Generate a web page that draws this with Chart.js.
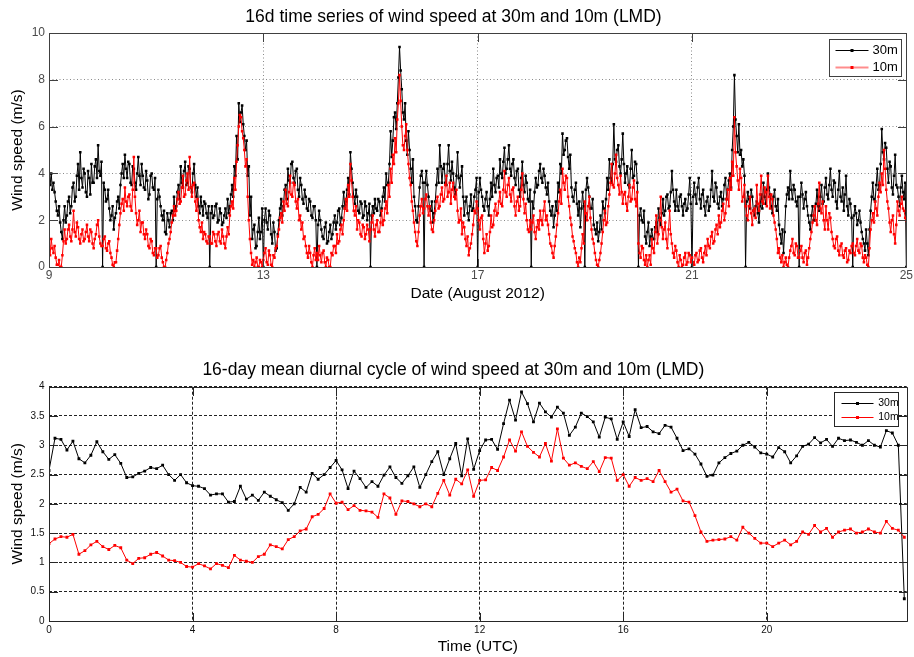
<!DOCTYPE html>
<html>
<head>
<meta charset="utf-8">
<script src="https://cdn.jsdelivr.net/npm/chart.js@4.4.1/dist/chart.umd.min.js"></script>
<style>
  html, body { margin: 0; padding: 0; background: #fff; width: 914px; height: 657px; overflow: hidden; }
  .panel { position: absolute; left: 0; }
  #topPanel { top: 0; }
  #bottomPanel { top: 345px; }
  canvas { display: block; }
</style>
</head>
<body>
<div class="panel" id="topPanel"><canvas id="seriesChart" width="914" height="310" style="width:914px;height:310px"></canvas></div>
<div class="panel" id="bottomPanel"><canvas id="diurnalChart" width="914" height="312" style="width:914px;height:312px"></canvas></div>
<script>
// ---- 16-day half-hourly wind speed, 9-25 August 2012 (m/s); one row per day, 00:00 .. 23:30 ----
const FIRST_DAY = 9;
const STEPS_PER_DAY = 48;
const wind30m = [
  3.8,3.5, 4.0,3.3, 3.6,3.2, 2.8,2.4, 2.2,2.6, 1.9,1.5, 1.2,2.0, 2.6,1.9, 2.2,2.8, 3.0,2.3, 2.6,3.4, 3.6,2.8, 3.0,3.9, 4.4,3.3, 4.9,3.8, 3.4,4.2, 4.0,3.2, 3.0,4.1, 3.8,3.1, 4.4,3.6, 3.6,4.3, 4.6,3.8, 5.2,4.1, 3.9,4.5, // 9
  0,3.6, 3.3,2.8, 2.9,3.3, 2.5,2.0, 2.2,2.6, 1.6,2.1, 2.3,2.8, 3.0,2.5, 3.5,4.0, 4.4,3.8, 4.8,4.2, 3.8,4.5, 4.4,3.6, 3.5,4.3, 4.2,3.6, 3.3,4.0, 4.7,3.9, 3.5,4.4, 3.9,3.4, 3.3,4.1, 3.7,2.9, 3.1,3.9, 4.0,3.4, 3.3,3.8,   // 10
  0,2.9, 3.3,3.0, 2.6,2.2, 2.0,2.4, 1.5,1.4, 2.3,2.0, 1.7,2.3, 2.4,2.0, 3.0,2.4, 2.6,3.2, 3.5,2.9, 4.3,3.6, 3.4,4.1, 4.5,3.5, 3.6,4.3, 4.2,3.4, 3.2,4.0, 4.4,3.5, 3.0,3.4, 2.6,2.3, 3.0,2.6, 2.2,2.8, 2.7,2.3, 2.1,2.6,   // 11
  0,2.3, 2.6,2.1, 2.2,2.6, 2.7,1.9, 2.0,2.5, 2.3,1.8, 1.9,2.2, 2.5,2.1, 2.9,2.3, 2.6,3.1, 3.5,3.0, 4.3,3.9, 5.6,4.6, 7.0,6.2, 6.6,6.9, 6.1,5.6, 5.0,5.4, 3.9,4.3, 2.2,3.0, 1.2,1.6, 1.8,0.8, 0.9,1.5, 2.1,1.2, 1.5,2.5,   // 12
  0,2.0, 2.5,1.9, 1.6,2.4, 2.2,1.4, 1.0,1.9, 1.5,0.7, 0.8,1.4, 2.0,2.5, 2.9,2.2, 2.6,3.3, 3.5,2.9, 4.2,3.7, 3.6,4.4, 4.5,3.8, 3.6,4.1, 4.2,3.3, 3.0,3.8, 3.5,2.9, 2.7,3.3, 3.0,2.5, 2.4,2.9, 2.8,2.2, 2.1,2.6, 2.6,2.0,   // 13
  0,1.8, 2.4,2.0, 1.6,1.3, 1.2,1.7, 1.9,1.0, 1.1,1.5, 1.8,1.2, 1.4,1.9, 2.2,1.6, 1.9,2.4, 2.5,1.8, 2.1,2.6, 3.2,2.5, 2.8,3.3, 3.8,3.1, 4.9,4.2, 3.6,3.0, 2.7,3.3, 3.0,2.4, 2.3,2.8, 2.7,2.1, 2.2,2.8, 2.6,2.0, 2.3,2.7,   // 14
  0,2.2, 2.6,2.3, 2.9,2.5, 2.4,2.9, 2.8,2.2, 2.5,3.0, 3.4,2.8, 4.0,3.5, 3.6,4.4, 5.8,4.7, 5.4,6.4, 6.6,5.9, 7.0,8.1, 9.4,8.4, 7.6,6.6, 6.3,7.0, 5.4,4.8, 5.8,5.0, 4.2,3.6, 4.6,3.0, 2.6,2.0, 1.9,2.6, 3.4,3.9, 4.1,3.6,   // 15
  0,3.6, 4.1,3.5, 3.0,2.5, 2.4,2.8, 1.9,2.3, 2.8,3.5, 4.2,3.6, 5.2,4.3, 3.6,4.2, 4.4,3.6, 3.5,4.4, 5.2,4.1, 3.7,4.5, 4.0,3.4, 3.1,3.9, 4.9,3.8, 3.4,3.9, 4.3,3.0, 2.2,2.8, 3.0,2.3, 2.0,2.6, 3.1,2.4, 2.5,3.0, 3.3,3.8,   // 16
  0,3.2, 3.8,3.3, 3.0,2.6, 2.4,2.9, 3.2,2.6, 2.2,2.9, 3.6,3.0, 4.2,3.5, 3.2,3.8, 3.9,3.4, 4.6,4.0, 3.8,4.5, 5.1,4.0, 4.2,4.6, 5.2,4.2, 3.9,4.4, 4.6,3.8, 3.5,4.1, 4.2,3.3, 3.0,3.8, 4.5,3.5, 3.2,3.9, 3.6,2.9, 2.8,3.3,   // 17
  0,2.8, 2.5,3.2, 3.8,3.4, 3.5,4.1, 4.4,3.8, 3.6,4.2, 3.9,3.4, 3.1,3.6, 2.8,2.4, 2.2,2.6, 1.7,2.2, 2.8,2.4, 3.6,3.2, 4.4,4.0, 5.7,4.8, 5.0,5.4, 5.5,4.7, 4.2,4.8, 3.4,3.0, 2.8,3.3, 3.6,2.7, 2.2,2.8, 1.7,2.5, 3.2,2.6,   // 18
  0,3.3, 3.8,3.4, 3.0,2.5, 2.5,2.9, 1.8,1.6, 1.4,1.9, 1.1,1.5, 2.2,1.6, 2.8,2.5, 2.3,2.9, 3.8,3.3, 4.6,3.8, 3.6,4.4, 6.1,4.6, 4.5,5.0, 5.2,4.3, 4.0,4.6, 5.7,4.4, 3.6,4.0, 4.3,3.5, 3.4,4.2, 5.0,3.8, 3.9,4.5, 4.4,3.6,   // 19
  0,2.2, 2.5,2.0, 1.9,2.4, 1.3,1.0, 1.5,1.9, 0.9,1.3, 1.6,1.2, 1.2,1.7, 1.9,1.5, 2.5,2.1, 1.8,2.3, 2.9,2.2, 2.4,3.0, 3.1,2.5, 2.6,3.2, 4.1,3.3, 2.8,2.4, 3.3,2.6, 2.4,3.0, 3.1,2.6, 2.2,2.7, 2.9,2.4, 2.5,3.1, 3.8,2.7,   // 20
  0,3.0, 3.6,3.1, 2.7,3.4, 3.8,2.9, 2.5,3.1, 3.3,2.6, 2.2,2.8, 3.0,2.4, 2.6,3.3, 4.1,3.0, 2.8,3.6, 3.4,2.7, 2.5,3.0, 3.2,2.6, 2.9,3.5, 3.8,2.9, 3.3,3.7, 4.0,3.4, 5.0,6.0, 8.2,6.3, 5.6,4.9, 6.1,4.8, 5.0,4.3, 4.6,3.9,   // 21
  0,2.8, 3.2,2.9, 2.5,3.3, 3.0,2.4, 2.2,2.6, 2.8,2.3, 1.9,2.6, 3.1,2.5, 3.6,3.0, 2.7,3.3, 4.0,3.4, 3.1,2.6, 2.3,3.0, 3.3,2.6, 2.4,2.9, 1.8,1.4, 1.0,1.6, 0.6,1.5, 2.6,3.1, 3.4,2.9, 4.1,3.3, 2.9,3.5, 3.3,2.8, 2.6,3.0,   // 22
  0,3.0, 3.6,3.1, 2.5,2.9, 3.2,2.6, 2.2,1.9, 1.6,2.2, 2.6,2.0, 2.0,2.7, 3.3,2.6, 2.4,3.0, 3.5,2.7, 2.8,3.4, 3.8,3.1, 2.9,3.5, 4.2,3.3, 3.0,3.7, 3.6,2.8, 2.5,3.3, 4.1,3.0, 2.8,3.4, 2.4,3.1, 3.9,2.6, 2.2,2.9, 2.7,2.1,   // 23
  0,2.2, 2.6,2.3, 1.8,2.0, 2.4,1.9, 1.5,1.2, 1.0,0.7, 1.6,1.0, 0.5,1.6, 2.4,3.0, 3.6,2.9, 2.8,3.5, 4.2,3.3, 3.5,4.4, 5.9,4.9, 4.6,5.3, 5.1,4.2, 3.6,4.5, 4.3,3.4, 3.1,3.9, 4.8,3.5, 3.4,3.0, 2.6,3.4, 3.9,3.2, 2.9,3.6,   // 24
  0                                                                                                                                                                                                                   // 25, 00:00
];
const wind10m = [
  0.9,0.5, 1.2,0.8, 0.6,0.9, 0.4,0.1, 0.1,0.3, 0.0,0.0, 0.5,1.1, 1.6,1.0, 1.2,1.6, 1.8,1.3, 1.1,1.6, 2.4,1.5, 1.3,1.9, 1.7,1.2, 1.0,1.4, 1.6,1.1, 1.2,1.5, 1.8,1.3, 1.1,1.6, 1.5,1.0, 0.8,1.2, 1.4,1.8, 2.0,1.3, 1.0,0.9, // 9
  0.9,1.2, 1.3,0.8, 0.7,1.0, 1.1,0.6, 0.4,0.1, 0.0,0.2, 0.2,0.7, 1.2,1.8, 2.3,2.7, 2.9,2.4, 3.4,2.8, 2.6,3.0, 3.1,2.6, 2.4,3.3, 4.7,3.0, 2.3,1.8, 2.0,2.4, 1.5,1.9, 1.9,1.4, 1.2,1.6, 1.4,0.9, 0.8,1.2, 1.1,0.6, 0.5,0.8, // 10
  0.8,0.4, 0.5,0.8, 0.9,0.4, 0.2,0.0, 0.0,0.3, 0.6,1.0, 1.2,1.5, 1.9,2.2, 2.6,2.2, 2.4,2.9, 3.2,2.7, 2.8,3.4, 3.9,3.0, 3.1,3.7, 4.0,3.3, 4.7,3.4, 3.0,3.5, 3.6,2.8, 2.4,2.9, 2.0,1.7, 1.5,1.9, 1.2,1.5, 1.4,1.1, 1.0,1.3, // 11
  1.3,1.0, 1.0,1.5, 1.4,1.1, 0.9,1.4, 1.5,1.1, 1.0,1.6, 1.3,1.0, 0.8,1.3, 1.7,1.4, 2.2,2.6, 2.8,2.5, 3.8,3.3, 4.5,5.2, 6.0,6.5, 6.4,5.8, 5.5,5.0, 4.3,4.6, 3.0,2.0, 1.2,0.6, 0.1,0.3, 0.0,0.2, 0.4,0.0, 0.0,0.3, 0.2,0.0, // 12
  0.3,0.6, 0.8,0.2, 0.1,0.7, 0.5,0.1, 0.0,0.5, 0.4,0.8, 0.9,1.3, 1.6,2.1, 2.3,1.9, 2.8,2.4, 3.3,2.7, 2.6,3.2, 3.9,3.1, 3.0,3.6, 3.5,2.8, 2.5,2.9, 2.0,2.2, 1.6,1.9, 1.2,1.3, 0.9,0.6, 0.4,0.9, 0.6,0.2, 0.0,0.5, 0.8,0.3, // 13
  0.6,0.3, 0.9,0.5, 0.2,0.6, 0.7,0.2, 0.0,0.4, 0.3,0.0, 0.0,0.6, 0.5,0.9, 0.9,0.6, 1.4,1.0, 1.1,1.6, 1.8,1.4, 2.0,2.5, 2.9,2.4, 3.5,3.0, 4.4,3.7, 3.0,2.4, 2.2,2.6, 1.6,2.0, 1.9,1.4, 1.3,1.8, 1.7,1.2, 1.4,1.8, 1.6,1.1, // 14
  1.6,1.9, 2.2,1.6, 1.3,1.8, 2.0,1.5, 1.5,1.9, 2.4,1.8, 2.0,2.5, 2.8,2.3, 3.5,3.0, 4.2,3.6, 4.8,4.4, 5.5,4.9, 6.3,7.0, 8.2,7.1, 6.0,5.2, 5.0,5.6, 6.1,5.0, 4.4,3.8, 3.5,2.8, 2.4,1.9, 1.5,1.1, 0.9,1.5, 2.2,2.6, 2.9,2.3, // 15
  2.5,2.9, 3.1,2.6, 2.2,2.6, 1.9,1.6, 1.5,2.0, 2.4,2.8, 3.0,2.5, 2.6,3.1, 3.4,2.8, 2.9,3.5, 3.9,3.0, 3.2,3.6, 2.7,3.3, 3.6,3.0, 2.9,3.3, 2.4,1.9, 2.0,2.5, 1.4,1.9, 1.7,1.2, 0.9,1.3, 0.5,0.8, 1.0,1.4, 1.8,2.4, 2.3,2.8, // 16
  2.5,2.0, 1.6,2.1, 2.2,1.2, 0.6,1.0, 1.4,0.7, 0.9,1.5, 2.2,1.7, 1.8,2.4, 2.7,2.2, 2.3,2.8, 3.2,2.7, 2.6,3.3, 4.1,3.2, 3.0,3.5, 3.8,3.1, 2.8,3.3, 3.4,2.6, 2.2,2.8, 3.0,2.4, 2.6,3.3, 4.0,2.9, 2.3,2.7, 2.0,1.6, 1.5,2.0, // 17
  1.6,1.9, 2.2,1.5, 1.2,1.7, 2.0,1.6, 2.4,2.0, 1.8,2.4, 2.8,2.0, 2.2,1.8, 1.4,1.0, 0.9,0.6, 0.4,0.9, 1.3,1.8, 2.3,2.8, 3.3,2.7, 4.2,3.6, 3.3,3.9, 3.8,3.0, 2.6,2.1, 1.8,1.3, 1.1,0.8, 0.6,0.2, 0.0,0.4, 0.2,0.8, 1.4,1.0, // 18
  2.8,2.3, 2.0,2.6, 3.0,2.1, 1.6,1.2, 1.0,0.6, 0.3,0.1, 0.0,0.3, 0.6,1.0, 1.5,2.0, 2.4,1.8, 1.9,2.6, 3.1,3.6, 4.4,3.5, 3.4,4.0, 4.8,3.8, 3.5,3.1, 3.9,3.2, 2.7,3.1, 3.2,2.7, 2.4,3.0, 3.5,2.8, 2.9,3.4, 3.7,2.9, 2.6,3.2, // 19
  1.0,0.6, 0.4,0.9, 0.8,0.3, 0.1,0.5, 0.0,0.3, 0.5,0.1, 1.2,0.8, 0.6,1.5, 2.2,1.0, 1.4,2.0, 3.0,1.7, 1.2,1.6, 1.9,1.2, 0.8,1.6, 2.4,1.4, 1.0,0.6, 0.4,0.9, 0.7,0.2, 0.0,0.5, 0.3,0.0, 0.1,0.4, 0.6,0.1, 0.2,0.6, 0.5,0.2, // 20
  0.4,0.2, 0.1,0.5, 0.6,0.2, 0.3,0.7, 0.8,0.4, 0.2,0.6, 0.9,0.5, 1.2,0.9, 0.8,1.3, 1.5,1.0, 1.1,1.6, 1.8,1.4, 2.2,1.7, 1.9,2.4, 2.7,2.0, 2.3,2.9, 3.3,2.6, 3.8,3.3, 4.5,3.9, 6.4,4.9, 4.3,3.7, 3.3,4.2, 3.8,2.8, 3.0,3.5, // 21
  2.6,2.2, 2.0,2.6, 3.0,2.3, 1.8,2.4, 2.5,2.1, 3.5,2.7, 2.4,3.1, 3.9,2.8, 2.7,3.4, 3.2,2.6, 3.9,3.0, 2.5,3.1, 2.9,2.2, 1.9,1.6, 1.2,0.6, 0.8,0.4, 0.2,0.5, 0.0,0.2, 0.4,0.1, 0.0,0.4, 0.7,0.9, 1.2,0.6, 0.5,1.0, 0.9,0.4, // 22
  0.4,0.7, 0.9,0.4, 0.2,0.6, 0.7,0.1, 0.4,0.8, 1.2,1.5, 1.9,2.2, 2.6,2.0, 1.8,2.7, 3.6,2.5, 2.3,2.8, 2.0,1.6, 2.6,2.0, 1.6,2.3, 2.1,1.5, 1.2,0.9, 0.8,1.2, 1.3,0.7, 0.5,0.9, 1.0,0.5, 0.4,0.7, 0.8,0.2, 0.3,0.7, 0.6,0.9, // 23
  1.0,0.6, 0.5,0.9, 1.2,0.7, 0.6,1.0, 0.9,0.4, 0.2,0.5, 0.4,0.1, 0.0,0.8, 1.6,2.0, 2.3,1.9, 2.8,2.5, 2.2,3.0, 3.6,3.2, 4.0,3.5, 5.0,4.2, 3.3,2.8, 2.5,1.9, 1.5,2.0, 2.2,1.4, 1.0,1.8, 2.8,2.4, 2.2,2.7, 3.0,2.5, 2.4,2.1, // 24
  2.0                                                                                                                                                                                                                     // 25, 00:00
];

// ---- 16-day mean diurnal cycle, 10-minute slots 00:00 .. 23:50 UTC (m/s); one row per 4 h ----
const diurnal30m = [
  2.57, 3.12, 3.10, 2.92, 3.07, 2.77, 2.70, 2.83, 3.06, 2.89, 2.76, 2.84, 2.69, 2.45, 2.46, 2.52, 2.56, 2.62, 2.60, 2.66, 2.50, 2.40, 2.50, 2.36,
  2.31, 2.30, 2.26, 2.15, 2.17, 2.17, 2.03, 2.04, 2.30, 2.08, 2.15, 2.06, 2.20, 2.13, 2.07, 2.02, 1.89, 2.00, 2.28, 2.20, 2.52, 2.42, 2.50, 2.62,
  2.74, 2.58, 2.26, 2.56, 2.43, 2.28, 2.38, 2.30, 2.49, 2.63, 2.45, 2.35, 2.48, 2.63, 2.28, 2.50, 2.72, 2.89, 2.50, 2.77, 3.03, 2.48, 3.11, 2.59,
  2.91, 3.09, 3.10, 2.93, 3.37, 3.77, 3.43, 3.91, 3.71, 3.40, 3.72, 3.57, 3.48, 3.65, 3.55, 3.17, 3.31, 3.55, 3.49, 3.40, 3.14, 3.48, 3.45, 3.10,
  3.40, 3.15, 3.61, 3.30, 3.32, 3.23, 3.20, 3.34, 3.31, 3.12, 2.91, 2.94, 2.85, 2.68, 2.47, 2.49, 2.70, 2.79, 2.86, 2.90, 3.00, 3.05, 2.97, 2.87,
  2.85, 2.80, 2.96, 2.89, 2.70, 2.82, 2.98, 3.02, 3.13, 3.04, 3.10, 2.98, 3.12, 3.08, 3.09, 3.05, 3.00, 3.08, 3.00, 2.97, 3.25, 3.21, 3.00, 0.38
];
const diurnal10m = [
  1.32, 1.40, 1.44, 1.43, 1.48, 1.14, 1.20, 1.30, 1.36, 1.27, 1.22, 1.29, 1.25, 1.04, 0.98, 1.07, 1.08, 1.14, 1.17, 1.11, 1.04, 1.03, 1.00, 0.93,
  0.92, 0.98, 0.94, 0.89, 0.98, 0.95, 0.91, 1.12, 1.04, 1.02, 1.00, 1.10, 1.14, 1.30, 1.27, 1.23, 1.39, 1.44, 1.54, 1.57, 1.78, 1.82, 1.92, 2.17,
  2.01, 2.03, 1.90, 1.97, 1.89, 1.88, 1.86, 1.77, 2.17, 2.10, 1.82, 2.05, 2.04, 2.00, 1.95, 2.00, 1.95, 2.18, 2.40, 2.15, 2.42, 2.34, 2.58, 2.13,
  2.40, 2.41, 2.62, 2.57, 2.80, 3.09, 2.90, 3.23, 2.98, 2.88, 2.80, 3.03, 2.73, 3.28, 2.78, 2.66, 2.70, 2.64, 2.60, 2.72, 2.55, 2.79, 2.78, 2.40,
  2.50, 2.30, 2.45, 2.40, 2.43, 2.38, 2.57, 2.38, 2.20, 2.25, 2.05, 2.03, 1.80, 1.52, 1.36, 1.38, 1.39, 1.40, 1.44, 1.38, 1.60, 1.50, 1.41, 1.33,
  1.33, 1.27, 1.33, 1.38, 1.30, 1.36, 1.52, 1.48, 1.63, 1.52, 1.58, 1.43, 1.52, 1.55, 1.57, 1.50, 1.52, 1.57, 1.52, 1.50, 1.70, 1.58, 1.55, 1.43
];

// ---- tick values ----
const dateTicks = [9, 13, 17, 21, 25];
const speedTicksTop = [0, 2, 4, 6, 8, 10];
const hourTicks = [0, 4, 8, 12, 16, 20];
const speedTicksBottom = [0, 0.5, 1, 1.5, 2, 2.5, 3, 3.5, 4];

const FONT = '"Liberation Sans", Arial, Helvetica, sans-serif';

const dayPoints = values => values.map((v, i) => ({ x: FIRST_DAY + i / STEPS_PER_DAY, y: v }));
const slotPoints = values => values.map((v, i) => ({ x: i / 6, y: v }));
const fixedTicks = list => scale => { scale.ticks = list.map(v => ({ value: v })); };

// Box around the axes, inward tick marks on all four sides and a boxed legend
const matlabAxes = {
  id: 'matlabAxes',
  afterDatasetsDraw(chart, args, o) {
    const { ctx, chartArea: a, scales } = chart;
    const L = Math.round(a.left) + 0.5, R = Math.round(a.right) + 0.5;
    const T = Math.round(a.top) + 0.5, B = Math.round(a.bottom) + 0.5;
    ctx.save();
    ctx.strokeStyle = o.frameColor;
    ctx.lineWidth = 1;
    ctx.setLineDash([]);
    ctx.beginPath();
    ctx.rect(L, T, R - L, B - T);
    const len = o.tickLength;
    scales.x.ticks.forEach(t => {
      const px = Math.round(scales.x.getPixelForValue(t.value)) + 0.5;
      ctx.moveTo(px, B); ctx.lineTo(px, B - len);
      ctx.moveTo(px, T); ctx.lineTo(px, T + len);
    });
    scales.y.ticks.forEach(t => {
      const py = Math.round(scales.y.getPixelForValue(t.value)) + 0.5;
      ctx.moveTo(L, py); ctx.lineTo(L + len, py);
      ctx.moveTo(R, py); ctx.lineTo(R - len, py);
    });
    ctx.stroke();

    // legend
    const g = o.legend;
    const x0 = Math.round(a.right - g.insetRight - g.width) + 0.5;
    const y0 = Math.round(a.top + g.insetTop) + 0.5;
    ctx.fillStyle = '#fff';
    ctx.fillRect(x0, y0, g.width, g.height);
    ctx.strokeStyle = o.frameColor;
    ctx.strokeRect(x0, y0, g.width, g.height);
    ctx.font = g.fontSize + 'px ' + FONT;
    ctx.textBaseline = 'middle';
    ctx.textAlign = 'left';
    chart.data.datasets.forEach((ds, i) => {
      const y = Math.round(y0 + g.firstRow + i * g.rowGap) + 0.5;
      ctx.strokeStyle = (g.lineColors && g.lineColors[i]) || ds.borderColor;
      ctx.lineWidth = (g.lineWidths && g.lineWidths[i]) || 1;
      ctx.beginPath();
      ctx.moveTo(x0 + g.lineStart, y);
      ctx.lineTo(x0 + g.lineEnd, y);
      ctx.stroke();
      const mx = x0 + (g.lineStart + g.lineEnd) / 2;
      ctx.fillStyle = ds.borderColor;
      ctx.fillRect(mx - 1.5, y - 1.5, 3, 3);
      ctx.fillStyle = o.textColor;
      ctx.fillText(ds.label, x0 + g.textX, y);
    });
    ctx.restore();
  }
};

function lineSet(label, points, color, order, radius) {
  return {
    label, data: points, order,
    borderColor: color, backgroundColor: color,
    borderWidth: 1, tension: 0,
    pointStyle: 'rect', pointRadius: radius, pointBorderWidth: 0,
    pointBackgroundColor: color
  };
}

// ---------- top: 16-day time series ----------
new Chart(document.getElementById('seriesChart'), {
  type: 'line',
  data: {
    datasets: [
      lineSet('30m', dayPoints(wind30m), '#000000', 1, 1.8),
      lineSet('10m', dayPoints(wind10m), '#ff0000', 0, 1.8)
    ]
  },
  options: {
    responsive: false, animation: false, devicePixelRatio: 1,
    layout: { padding: { left: 0, right: 7, top: 0, bottom: 0 } },
    plugins: {
      legend: { display: false }, tooltip: { enabled: false },
      title: {
        display: true, text: '16d time series of wind speed at 30m and 10m (LMD)',
        color: '#000', font: { family: FONT, size: 17.5, weight: 'normal' },
        padding: { top: 6.5, bottom: 5.5 }
      },
      matlabAxes: {
        frameColor: '#404040', textColor: '#000', tickLength: 8.5,
        legend: { width: 72, height: 37, insetRight: 5, insetTop: 6, firstRow: 10.3, rowGap: 16.7,
                  lineStart: 6, lineEnd: 39, textX: 43, fontSize: 13,
                  lineColors: ['#000000', 'rgba(255,0,0,0.45)'], lineWidths: [1, 2] }
      }
    },
    scales: {
      x: {
        type: 'linear', min: 9, max: 25,
        afterBuildTicks: fixedTicks(dateTicks),
        afterFit: s => { s.height = 43; },
        grid: { color: '#8a8a8a', lineWidth: 1, drawTicks: false },
        border: { display: false, dash: [1, 2.5] },
        ticks: { color: '#4a4a4a', font: { family: FONT, size: 12 }, padding: 1, maxRotation: 0, autoSkip: false,
                 callback: v => String(v) },
        title: { display: true, text: 'Date (August 2012)', color: '#000',
                 font: { family: FONT, size: 15.5 }, padding: { top: 0, bottom: 6.5 } }
      },
      y: {
        type: 'linear', min: 0, max: 10,
        afterBuildTicks: fixedTicks(speedTicksTop),
        afterFit: s => { s.width = 49; },
        grid: { color: '#8a8a8a', lineWidth: 1, drawTicks: false },
        border: { display: false, dash: [1, 2.5] },
        ticks: { color: '#4a4a4a', font: { family: FONT, size: 12 }, padding: 4, autoSkip: false,
                 callback: v => String(v) },
        title: { display: true, text: 'Wind speed (m/s)', color: '#000',
                 font: { family: FONT, size: 15.5 }, padding: { top: 8.5, bottom: 0 } }
      }
    }
  },
  plugins: [matlabAxes]
});

// ---------- bottom: mean diurnal cycle ----------
new Chart(document.getElementById('diurnalChart'), {
  type: 'line',
  data: {
    datasets: [
      lineSet('30m', slotPoints(diurnal30m), '#000000', 1, 2.0),
      lineSet('10m', slotPoints(diurnal10m), '#ff0000', 0, 2.0)
    ]
  },
  options: {
    responsive: false, animation: false, devicePixelRatio: 1,
    layout: { padding: { left: 0, right: 7.3, top: 0, bottom: 0 } },
    plugins: {
      legend: { display: false }, tooltip: { enabled: false },
      title: {
        display: true, text: '16-day mean diurnal cycle of wind speed at 30m and 10m (LMD)',
        color: '#000', font: { family: FONT, size: 17.5, weight: 'normal' },
        padding: { top: 14.5, bottom: 6.2 }
      },
      matlabAxes: {
        frameColor: '#262626', textColor: '#000', tickLength: 8.5,
        legend: { width: 64, height: 34, insetRight: 8.7, insetTop: 5, firstRow: 10, rowGap: 14.3,
                  lineStart: 7, lineEnd: 39, textX: 43.7, fontSize: 10.5 }
      }
    },
    scales: {
      x: {
        type: 'linear', min: 0, max: 23.9,
        afterBuildTicks: fixedTicks(hourTicks),
        afterFit: s => { s.height = 36; },
        grid: { color: '#222', lineWidth: 1, drawTicks: false },
        border: { display: false, dash: [3, 2] },
        ticks: { color: '#111', font: { family: FONT, size: 10 }, padding: 3.5, maxRotation: 0, autoSkip: false,
                 callback: v => String(v) },
        title: { display: true, text: 'Time (UTC)', color: '#000',
                 font: { family: FONT, size: 15.5 }, padding: { top: 0, bottom: 0.7 } }
      },
      y: {
        type: 'linear', min: 0, max: 4,
        afterBuildTicks: fixedTicks(speedTicksBottom),
        afterFit: s => { s.width = 49; },
        grid: { color: '#222', lineWidth: 1, drawTicks: false },
        border: { display: false, dash: [3, 2] },
        ticks: { color: '#111', font: { family: FONT, size: 10 }, padding: 4.5, autoSkip: false,
                 callback: v => String(v) },
        title: { display: true, text: 'Wind speed (m/s)', color: '#000',
                 font: { family: FONT, size: 15.5 }, padding: { top: 8.7, bottom: 0 } }
      }
    }
  },
  plugins: [matlabAxes]
});
</script>
</body>
</html>
